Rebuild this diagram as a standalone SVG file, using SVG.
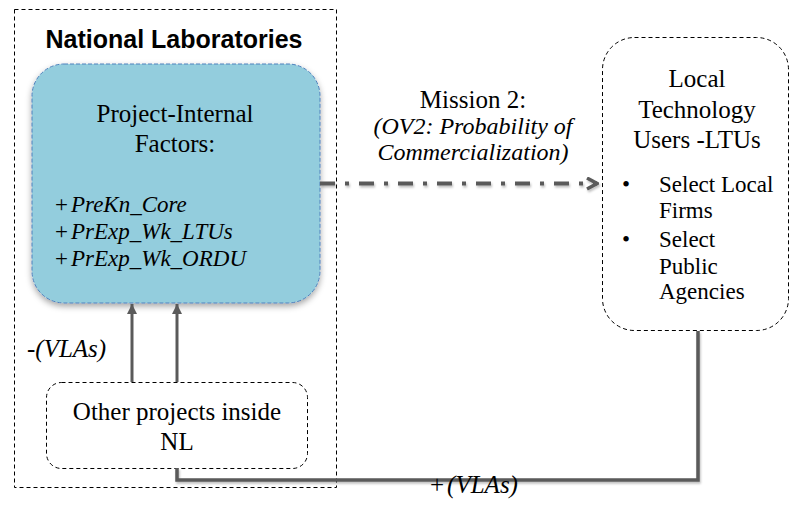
<svg xmlns="http://www.w3.org/2000/svg" width="791" height="507" viewBox="0 0 791 507">
<defs>
<filter id="shadow" x="-10%" y="-10%" width="120%" height="130%">
<feDropShadow dx="0" dy="3" stdDeviation="3" flood-color="#000" flood-opacity="0.35"/>
</filter>
<filter id="lshadow" filterUnits="userSpaceOnUse" x="0" y="0" width="791" height="507">
<feDropShadow dx="1" dy="2" stdDeviation="1.2" flood-color="#000" flood-opacity="0.25"/>
</filter>
<marker id="tri" viewBox="0 0 10 10" refX="10" refY="5" markerWidth="10" markerHeight="10" markerUnits="userSpaceOnUse" orient="auto">
<path d="M0,0 L10,5 L0,10 Z" fill="#5a5a5a"/>
</marker>
<marker id="chev" viewBox="0 0 14 14" refX="12" refY="7" markerWidth="14" markerHeight="14" markerUnits="userSpaceOnUse" orient="auto">
<path d="M2,1.5 L12,7 L2,12.5" fill="none" stroke="#5a5a5a" stroke-width="3.5"/>
</marker>
</defs>
<style>
.dash{fill:none;stroke:#000;stroke-width:1;stroke-dasharray:4 3}
.serif{font-family:"Liberation Serif","Times New Roman",serif;font-size:25px;fill:#000}
.sm{font-size:23px}
.md{font-size:24px}
.it{font-style:italic}
.conn{fill:none;stroke:#5a5a5a}
</style>
<rect width="791" height="507" fill="#fff"/>

<g id="national-laboratories">
<rect class="dash" x="14.5" y="9.5" width="322" height="478"/>
<text x="174" y="48" text-anchor="middle" font-family="Liberation Sans, Arial, sans-serif" font-weight="bold" font-size="25" fill="#000">National Laboratories</text>
</g>

<g id="project-internal-factors">
<rect x="32" y="64" width="288" height="239" rx="32" ry="32" fill="#93CDDD" stroke="#4F81BD" stroke-width="1" stroke-dasharray="4 2" filter="url(#shadow)"/>
<text class="serif" x="175" y="122" text-anchor="middle">Project-Internal</text>
<text class="serif" x="175" y="152" text-anchor="middle">Factors:</text>
<text class="serif sm" x="55" y="212"><tspan>+</tspan><tspan class="it" dx="3">PreKn_Core</tspan></text>
<text class="serif sm" x="55" y="239"><tspan>+</tspan><tspan class="it" dx="3">PrExp_Wk_LTUs</tspan></text>
<text class="serif sm" x="55" y="266"><tspan>+</tspan><tspan class="it" dx="3">PrExp_Wk_ORDU</tspan></text>
</g>

<g id="other-projects">
<rect class="dash" x="46.5" y="382.5" width="261" height="86" rx="15" ry="15"/>
<text class="serif" x="177" y="420" text-anchor="middle">Other projects inside</text>
<text class="serif" x="177" y="450" text-anchor="middle">NL</text>
</g>

<g id="local-technology-users">
<rect class="dash" x="602.5" y="37.5" width="186" height="293" rx="32" ry="32"/>
<text class="serif" x="697" y="87" text-anchor="middle">Local</text>
<text class="serif" x="697" y="118" text-anchor="middle">Technology</text>
<text class="serif" x="697" y="148" text-anchor="middle">Users -LTUs</text>
<text class="serif sm" x="622" y="192">•</text>
<text class="serif sm" x="659" y="192">Select Local</text>
<text class="serif sm" x="659" y="218">Firms</text>
<text class="serif sm" x="622" y="247">•</text>
<text class="serif sm" x="659" y="247">Select</text>
<text class="serif sm" x="659" y="274">Public</text>
<text class="serif sm" x="659" y="299">Agencies</text>
</g>

<g id="connectors">
<path class="conn" d="M320,183.5 H597" stroke-width="4" stroke-dasharray="15 10 4 10" marker-end="url(#chev)" filter="url(#lshadow)"/>
<path class="conn" d="M132,382 V304" stroke-width="3" marker-end="url(#tri)"/>
<path class="conn" d="M177,382 V304" stroke-width="3" marker-end="url(#tri)"/>
<path class="conn" d="M177,468 V480 H698 V331" stroke-width="3.5" filter="url(#lshadow)"/>
<text class="serif" x="473" y="108" text-anchor="middle">Mission 2:</text>
<text class="serif md it" x="473" y="134" text-anchor="middle">(OV2: Probability of</text>
<text class="serif md it" x="473" y="160" text-anchor="middle">Commercialization)</text>
<text class="serif it" x="27" y="357">-(VLAs)</text>
<text class="serif" x="430" y="493"><tspan>+</tspan><tspan class="it" dx="3">(VLAs)</tspan></text>
</g>
</svg>
